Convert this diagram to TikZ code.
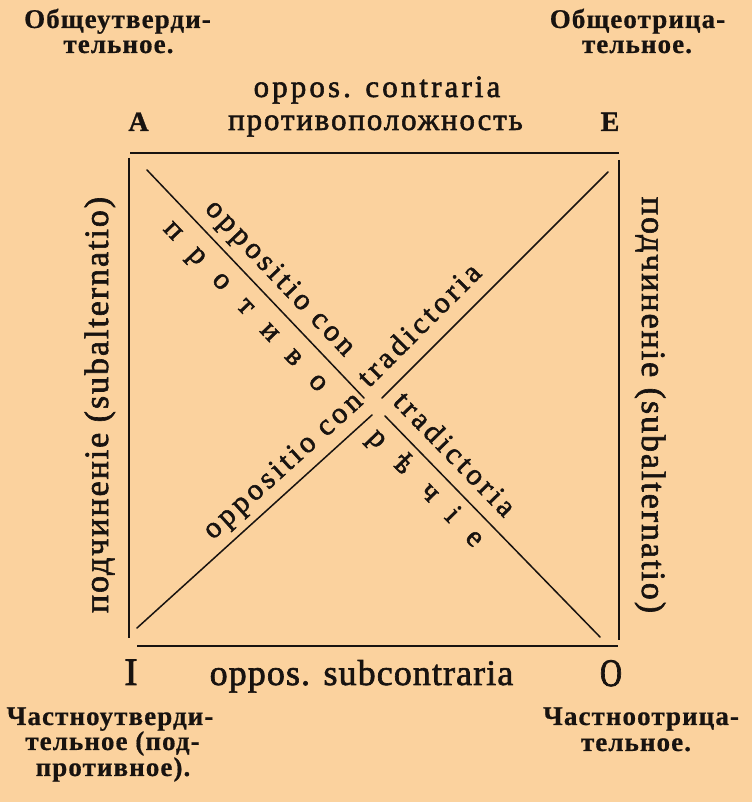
\documentclass[tikz,border=0pt]{standalone}
\usepackage{fontspec}
\setmainfont{Liberation Serif}
\definecolor{bg}{RGB}{251,210,158}
\definecolor{ink}{RGB}{24,19,16}
\newcommand\myfs[3]{\fontsize{#1}{#1}\selectfont\addfontfeature{LetterSpace=#2,FakeBold=#3}}
\tikzset{
  txt/.style={inner sep=0pt, text=ink, anchor=base},
  lab/.style={txt, font={\bfseries\myfs{27}{4}{0.6}}},
  toptxt/.style={txt, font={\myfs{31}{10}{1.8}}},
  toptxtc/.style={txt, font={\myfs{31}{6}{1.8}}},
  corner/.style={txt, font={\bfseries\myfs{28}{0}{1.2}}},
  iofont/.style={txt, font={\myfs{39}{0}{2.2}}},
  bottxt/.style={txt, font={\myfs{36}{3}{1.8}}},
  verttxt/.style={txt, font={\myfs{34}{5.7}{1.8}}},
  diagtxt/.style={txt, font={\myfs{30}{12.5}{1.8}}},
  diagl/.style={txt, font={\myfs{30}{0}{1.8}}},
  edge/.style={draw=ink, line width=2.4pt},
  diag/.style={draw=ink, line width=1.5pt, line cap=round}
}
\begin{document}
\begin{tikzpicture}[x=1pt,y=1pt]
\fill[bg] (0,0) rectangle (752,802);
\useasboundingbox (0,0) rectangle (752,802);

% square sides
\coordinate (tl) at (130,649); \coordinate (tr) at (619,649);
\coordinate (bl) at (137,156); \coordinate (br) at (618,156);
\coordinate (lt) at (129,644); \coordinate (lb) at (129,164);
\coordinate (rt) at (619,642); \coordinate (rb) at (619,162);
\draw[edge] (tl) -- (tr);
\draw[edge] (bl) -- (br);
\draw[edge] (lt) -- (lb);
\draw[edge] (rt) -- (rb);

% diagonals
\coordinate (aoA) at (147,632); \coordinate (aoM1) at (364,404);
\coordinate (aoM2) at (385,386); \coordinate (aoO) at (600,165);
\coordinate (eiE) at (608,630); \coordinate (eiM1) at (382,404);
\coordinate (eiM2) at (372,387); \coordinate (eiI) at (137,174);
\draw[diag] (aoA) -- (aoM1);
\draw[diag] (aoM2) -- (aoO);
\draw[diag] (eiE) -- (eiM1);
\draw[diag] (eiM2) -- (eiI);

% texts along A-O
\begin{scope}[shift={(aoA)}, rotate=-46.42, transform shape]
  \node[diagtxt] (aoT1) at (170,14) {oppositio con};
  \foreach \ch [count=\k from 0] in {п,р,о,т,и,в,о}
    \node[diagl] (pr\k) at ({62+35*\k},-30) {\ch};
\end{scope}
\begin{scope}[shift={(aoM2)}, rotate=-45.79, transform shape]
  \node[diagtxt] (aoT2) at (76,14) {tradictoria};
  \node[diagl] (re0) at (11,-29) {р};
  \node[diagl] (re1) at (47,-29) {ѣ};
  \node[diagl] (re2) at (86,-29) {ч};
  \node[diagl] (re3) at (118,-29) {і};
  \node[diagl] (re4) at (150,-29) {е};
\end{scope}
% texts along I-E
\begin{scope}[shift={(eiI)}, rotate=42.19, transform shape]
  \node[diagtxt] (eiT1) at (217,14) {oppositio con};
\end{scope}
\begin{scope}[shift={(eiM1)}, rotate=45, transform shape]
  \node[diagtxt] (eiT2) at (78,16) {tradictoria};
\end{scope}

% top
\node[toptxt] (contr) at (377,705) {oppos. contraria};
\node[toptxtc] (protiv) at (375.5,672) {противоположность};
\node[corner] (A) at (138.5,671) {A};
\node[corner] (E) at (610,671) {E};

% bottom
\node[iofont] (I) at (131,117) {I};
\node[iofont] (O) at (611,116) {\scalebox{0.78}[1]{O}};
\node[bottxt] (subc) at (361.5,117) {oppos. subcontraria};

% sides
\node[verttxt, rotate=90] (subL) at (108,397) {подчиненіе (subalternatio)};
\node[verttxt, rotate=-90] (subR) at (642,397) {подчиненіе (subalternatio)};

% labels
\node[lab] (tl1) at (117.5,774) {Общеутверди-};
\node[lab] (tl2) at (118.5,749) {тельное.};
\node[lab] (tr1) at (637.5,774) {Общеотрица-};
\node[lab] (tr2) at (637,749) {тельное.};
\node[lab] (bl1) at (110,77) {Частноутверди-};
\node[lab] (bl2) at (112.5,52) {тельное (под-};
\node[lab] (bl3) at (113,26) {противное).};
\node[lab] (br1) at (641,77) {Частноотрица-};
\node[lab] (br2) at (636,51) {тельное.};
\end{tikzpicture}
\end{document}
